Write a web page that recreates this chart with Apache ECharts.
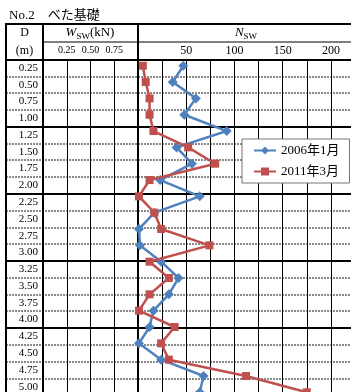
<!DOCTYPE html>
<html>
<head>
<meta charset="utf-8">
<script src="https://cdn.jsdelivr.net/npm/echarts@6/dist/echarts.min.js"></script>
<style>
html, body { margin: 0; padding: 0; background: #fff; }
#chart { width: 351px; height: 392px; }
</style>
</head>
<body>
<div id="chart"></div>
<script>
// D column rows (m)
const rowLabels = [
  '0.25', '0.50', '0.75', '1.00', '1.25', '1.50', '1.75', '2.00',
  '2.25', '2.50', '2.75', '3.00', '3.25', '3.50', '3.75', '4.00',
  '4.25', '4.50', '4.75', '5.00'
]

// depth of each measured point (m)
const depths = [
  0.25, 0.5, 0.75, 1.0, 1.25, 1.5, 1.75, 2.0, 2.25, 2.5, 2.75,
  3.0, 3.25, 3.5, 3.75, 4.0, 4.25, 4.5, 4.75, 5.0, 5.25
]

// Nsw readings
const nsw2006 = [47, 36, 60, 48, 92, 40, 56, 23, 64, 17, 1, 2, 24, 42, 32, 16, 12, 1, 24, 68, 64]
const nsw2011 = [5, 8, 12, 12, 16, 52, 80, 12, 1, 17, 24, 74, 12, 32, 12, 1, 38, 24, 32, 112, 175]

// header tick labels
const wTickLabels = [0.25, 0.5, 0.75]
const nTickLabels = [50, 100, 150, 200]

const serif = '"Liberation Serif", "Noto Sans CJK JP", serif'

const chart = echarts.init(document.getElementById('chart'))

const rowTop = 59.5
const rowsHeight = 16.78 * rowLabels.length

const hidden = { show: false }

const frame = (x1, y1, x2, y2, w) => ({
  type: 'line',
  z: 1,
  shape: { x1, y1, x2, y2 },
  style: { stroke: '#000', lineWidth: w }
})

const label = (x, y, text, size, align) => ({
  type: 'text',
  z: 1,
  style: {
    x,
    y,
    text,
    font: size + 'px ' + serif,
    fill: '#000',
    align: align || 'center',
    verticalAlign: 'middle',
    textAlign: align || 'center',
    textVerticalAlign: 'middle'
  }
})

const subText = (x, y, text) => ({
  type: 'text',
  z: 1,
  style: {
    x,
    y,
    text,
    fill: '#000',
    align: 'center',
    verticalAlign: 'middle',
    textAlign: 'center',
    textVerticalAlign: 'middle',
    rich: {
      i: { fontFamily: serif, fontSize: 13, fontStyle: 'italic', fill: '#000' },
      s: { fontFamily: serif, fontSize: 9, fill: '#000', padding: [7, 0, 0, 0] },
      n: { fontFamily: serif, fontSize: 13, fill: '#000' }
    }
  }
})

const gridAt = (left, top, width, height) => ({
  left,
  top,
  width,
  height,
  outerBoundsMode: 'none',
  containLabel: false
})

const option = {
  animation: false,
  backgroundColor: '#fff',

  grid: [
    gridAt(6, rowTop, 349, rowsHeight),
    gridAt(6, rowTop, 37, rowsHeight),
    gridAt(43, rowTop, 95, rowsHeight),
    gridAt(138, rowTop, 217, rowsHeight),
    gridAt(138, 49.4, 217, 391.9)
  ],

  xAxis: [
    { gridIndex: 0, type: 'value', min: 0, max: 1, show: false },
    { gridIndex: 1, type: 'value', min: 0, max: 1, show: false },
    {
      gridIndex: 2,
      type: 'value',
      position: 'top',
      min: 0,
      max: 1,
      interval: 0.25,
      axisLine: hidden,
      axisTick: hidden,
      axisLabel: {
        margin: 4,
        fontFamily: serif,
        fontSize: 10,
        color: '#000',
        formatter: (v) => (wTickLabels.includes(v) ? v.toFixed(2) : '')
      },
      splitLine: { lineStyle: { color: '#000', width: 1 } }
    },
    {
      gridIndex: 3,
      type: 'value',
      position: 'top',
      min: 0,
      max: 225,
      interval: 25,
      axisLine: hidden,
      axisTick: hidden,
      axisLabel: {
        margin: 3,
        fontFamily: serif,
        fontSize: 12,
        color: '#000',
        formatter: (v) => (nTickLabels.includes(v) ? String(v) : '')
      },
      splitLine: { lineStyle: { color: '#000', width: 1 } }
    },
    { gridIndex: 4, type: 'value', min: 0, max: 225, show: false }
  ],

  yAxis: [
    {
      gridIndex: 0,
      type: 'value',
      inverse: true,
      min: 0,
      max: 5,
      interval: 0.25,
      axisLine: hidden,
      axisTick: hidden,
      axisLabel: hidden,
      splitLine: { lineStyle: { color: '#8a8a8a', width: 2, type: [2, 1] } }
    },
    {
      gridIndex: 0,
      type: 'value',
      inverse: true,
      min: 0,
      max: 5,
      interval: 1,
      axisLine: hidden,
      axisTick: hidden,
      axisLabel: hidden,
      splitLine: { lineStyle: { color: '#000', width: 2 } }
    },
    {
      gridIndex: 1,
      type: 'category',
      data: rowLabels,
      inverse: true,
      position: 'right',
      axisLine: hidden,
      axisTick: hidden,
      splitLine: hidden,
      axisLabel: {
        inside: true,
        margin: 5,
        fontFamily: serif,
        fontSize: 11,
        color: '#000'
      }
    },
    { gridIndex: 2, type: 'value', min: 0, max: 1, show: false },
    { gridIndex: 3, type: 'value', min: 0, max: 1, show: false },
    { gridIndex: 4, type: 'value', inverse: true, min: 0, max: 6, show: false }
  ],

  legend: {
    data: ['2006年1月', '2011年3月'],
    orient: 'vertical',
    left: 242,
    top: 139,
    padding: [5, 10, 5, 11],
    itemGap: 8,
    itemWidth: 22,
    itemHeight: 10,
    backgroundColor: '#fff',
    borderColor: '#777',
    borderWidth: 1,
    borderRadius: 0,
    textStyle: {
      fontFamily: serif,
      fontSize: 13,
      color: '#000'
    }
  },

  graphic: {
    elements: [
      frame(6, 24, 351, 24, 2),
      frame(43, 42, 351, 42, 1.2),
      frame(6, 60, 351, 60, 2),
      frame(6, 23, 6, 392, 2),
      frame(43, 24, 43, 392, 2),
      frame(138, 24, 138, 392, 2),
      label(9, 16, 'No.2　べた基礎', 13, 'left'),
      label(24.5, 33, 'D', 12),
      label(24.5, 51, '(m)', 12),
      subText(90, 33, '{i|W}{s|SW}{n|(kN)}'),
      subText(246, 33, '{i|N}{s|SW}')
    ]
  },

  series: [
    {
      name: '2006年1月',
      type: 'line',
      xAxisIndex: 4,
      yAxisIndex: 5,
      data: depths.map((d, i) => [nsw2006[i], d]),
      symbol: 'diamond',
      symbolSize: 10,
      clip: false,
      z: 3,
      lineStyle: { color: '#4f81bd', width: 2.5 },
      itemStyle: { color: '#4f81bd' }
    },
    {
      name: '2011年3月',
      type: 'line',
      xAxisIndex: 4,
      yAxisIndex: 5,
      data: depths.map((d, i) => [nsw2011[i], d]),
      symbol: 'rect',
      symbolSize: 8,
      clip: false,
      z: 4,
      lineStyle: { color: '#c0504d', width: 2.5 },
      itemStyle: { color: '#c0504d' }
    }
  ]
}

chart.setOption(option)
</script>
</body>
</html>
